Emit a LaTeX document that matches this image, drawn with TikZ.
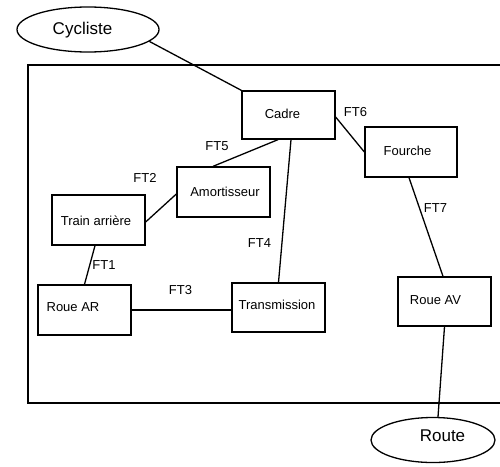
\documentclass[tikz,border=0pt]{standalone}
\usepackage{fontspec}
\setmainfont{Liberation Sans}
\usetikzlibrary{shapes.geometric}
\begin{document}
\begin{tikzpicture}[x=1pt,y=-1pt,
  line width=1.3pt,
  box/.style={draw,rectangle,inner sep=0pt,minimum width=93pt,minimum height=49pt},
  oval/.style={draw,ellipse,inner sep=0pt},
  boxtext/.style={inner sep=0pt,font=\fontsize{13}{13}\selectfont},
  ovaltext/.style={inner sep=0pt,font=\fontsize{17}{17}\selectfont},
  ft/.style={inner sep=0pt,font=\fontsize{13}{13}\selectfont},
  link/.style={line width=1.3pt}]
\useasboundingbox (0,0) rectangle (500,466);
\fill[white] (0,0) rectangle (500,466);

% system boundary (open on the right)
\draw[line width=1.1pt] (500,65) -- (28,65) -- (28,403) -- (500,403);

% external elements
\node[oval,minimum width=142pt,minimum height=45pt] (cyc) at (88,29.5) {};
\node[ovaltext] (cyct) at (82.5,30) {Cycliste};
\node[oval,minimum width=124pt,minimum height=45pt] (route) at (433,440) {};
\node[ovaltext] (routet) at (442.5,435.5) {Route};

% components
\node[box,minimum height=48pt] (cadre) at (288.5,115) {};
\node[boxtext] (cadret) at (282.5,114) {Cadre};
\node[box,minimum width=92pt,minimum height=50pt] (fourche) at (411,152) {};
\node[boxtext] (fourchet) at (407.5,151) {Fourche};
\node[box,minimum height=50pt] (amort) at (223.5,192) {};
\node[boxtext] (amortt) at (225,192) {Amortisseur};
\node[box,minimum height=50pt] (train) at (98.5,220) {};
\node[boxtext] (traint) at (96,221) {Train arrière};
\node[box,minimum height=50pt] (rouear) at (84.5,310) {};
\node[boxtext] (roueart) at (73,307) {Roue AR};
\node[box] (trans) at (278.5,307.5) {};
\node[boxtext] (transt) at (277,305) {Transmission};
\node[box] (roueav) at (444.5,301.5) {};
\node[boxtext] (roueavt) at (435.5,300) {Roue AV};

% functional links
\draw[link] (cyc.-11) -- (cadre.north west);
\draw[link] ([yshift=-2pt]cadre.east) -- (fourche.west);
\draw[link] ([xshift=-10.5pt]cadre.south) -- ([xshift=-10.5pt]amort.north);
\draw[link] ([xshift=2.5pt]cadre.south) -- (trans.north);
\draw[link] ([yshift=-2pt]amort.west) -- ([yshift=-2pt]train.east);
\draw[link] ([xshift=-3.5pt]train.south) -- (rouear.north);
\draw[link] (rouear.east) -- (rouear.east -| trans.west);
\draw[link] ([xshift=-2pt]fourche.south) -- ([xshift=-1.5pt]roueav.north);
\draw[link] (roueav.south) -- ([xshift=5pt]route.north);

% link labels
\node[ft] (ft1) at (104,265) {FT1};
\node[ft] (ft2) at (145,178) {FT2};
\node[ft] (ft3) at (180.5,290) {FT3};
\node[ft] (ft4) at (259.5,243) {FT4};
\node[ft] (ft5) at (217,146) {FT5};
\node[ft] (ft6) at (355.5,112) {FT6};
\node[ft] (ft7) at (435.5,208) {FT7};
\end{tikzpicture}
\end{document}
